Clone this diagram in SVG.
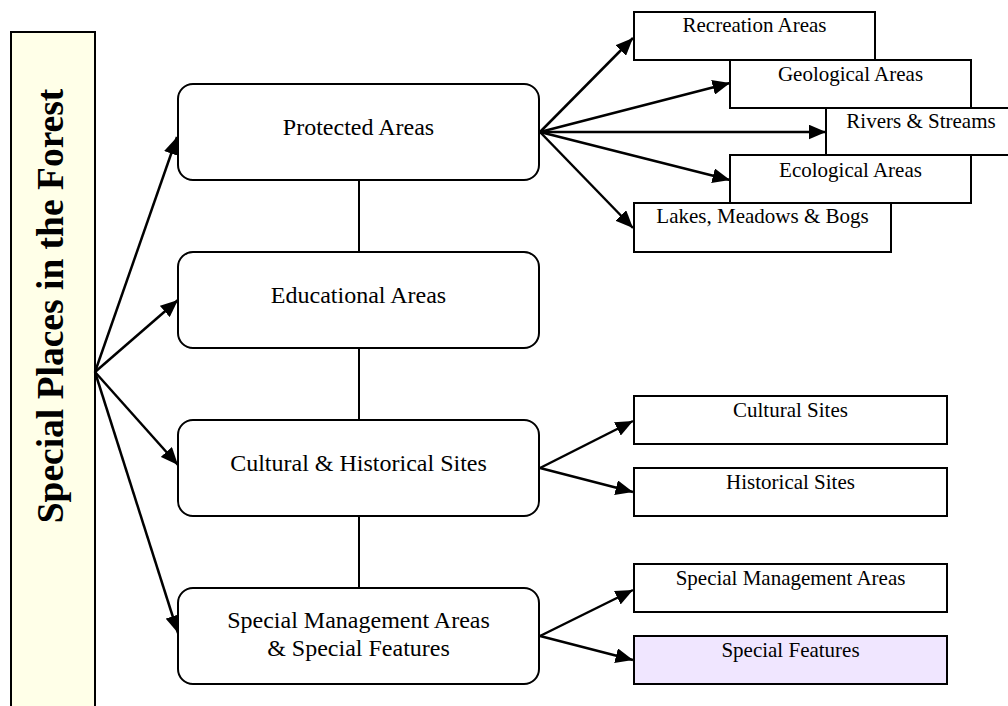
<svg xmlns="http://www.w3.org/2000/svg" width="1008" height="706" viewBox="0 0 1008 706">
<style>
.main{fill:#fff;stroke:#000;stroke-width:2}
.sub{fill:#fff;stroke:#000;stroke-width:2}
.t1{font-family:"Liberation Serif","Times New Roman",serif;font-size:24px;text-anchor:middle;fill:#000}
.t2{font-family:"Liberation Serif","Times New Roman",serif;font-size:21px;text-anchor:middle;fill:#000}
.title{font-family:"Liberation Serif","Times New Roman",serif;font-size:37.5px;font-weight:bold;text-anchor:middle;fill:#000}
.arr{stroke:#000;stroke-width:2.5;fill:none;marker-end:url(#ah)}
.ln{stroke:#000;stroke-width:2;fill:none}
</style>
<defs>
<marker id="ah" markerWidth="7" markerHeight="6" refX="7" refY="3" orient="auto" markerUnits="strokeWidth">
<path d="M0,0 L7,3 L0,6 Z" fill="#000"/>
</marker>
</defs>
<rect width="1008" height="706" fill="#fff"/>

<g id="title-node">
<rect x="11" y="32" width="84" height="690" fill="#FFFFE8" stroke="#000" stroke-width="2"/>
<text class="title" transform="translate(63,306) rotate(-90)">Special Places in the Forest</text>
</g>

<g id="connectors">
<path class="arr" d="M95,372 L177,137"/>
<path class="arr" d="M95,372 L178,300"/>
<path class="arr" d="M95,372 L178,465"/>
<path class="arr" d="M95,372 L178,633"/>
<path class="ln" d="M359,180 V252 M359,348 V420 M359,516 V588"/>
<path class="arr" d="M540,132 L633,38"/>
<path class="arr" d="M540,132 L730,83"/>
<path class="arr" d="M540,132 L826,132"/>
<path class="arr" d="M540,132 L730,180"/>
<path class="arr" d="M540,132 L633,228"/>
<path class="arr" d="M540,468 L633,421"/>
<path class="arr" d="M540,468 L633,492"/>
<path class="arr" d="M540,636 L633,590"/>
<path class="arr" d="M540,636 L633,660"/>
</g>

<g id="protected-areas">
<rect class="main" x="178" y="84" width="361" height="96" rx="15"/>
<text class="t1" x="358.5" y="135">Protected Areas</text>
</g>
<g id="educational-areas">
<rect class="main" x="178" y="252" width="361" height="96" rx="15"/>
<text class="t1" x="358.5" y="303">Educational Areas</text>
</g>
<g id="cultural-historical">
<rect class="main" x="178" y="420" width="361" height="96" rx="15"/>
<text class="t1" x="358.5" y="471">Cultural &amp; Historical Sites</text>
</g>
<g id="special-management">
<rect class="main" x="178" y="588" width="361" height="96" rx="15"/>
<text class="t1" x="358.5" y="628">Special Management Areas</text>
<text class="t1" x="358.5" y="656">&amp; Special Features</text>
</g>

<g id="recreation-areas">
<rect class="sub" x="634" y="12" width="241" height="48"/>
<text class="t2" x="754.5" y="32">Recreation Areas</text>
</g>
<g id="geological-areas">
<rect class="sub" x="730" y="60" width="241" height="48"/>
<text class="t2" x="850.5" y="81">Geological Areas</text>
</g>
<g id="rivers-streams">
<rect class="sub" x="826" y="108" width="190" height="47"/>
<text class="t2" x="921" y="128">Rivers &amp; Streams</text>
</g>
<g id="ecological-areas">
<rect class="sub" x="730" y="155" width="241" height="48"/>
<text class="t2" x="850.5" y="177">Ecological Areas</text>
</g>
<g id="lakes-meadows-bogs">
<rect class="sub" x="634" y="203" width="257" height="49"/>
<text class="t2" x="762.5" y="223">Lakes, Meadows &amp; Bogs</text>
</g>

<g id="cultural-sites">
<rect class="sub" x="634" y="396" width="313" height="48"/>
<text class="t2" x="790.5" y="417">Cultural Sites</text>
</g>
<g id="historical-sites">
<rect class="sub" x="634" y="468" width="313" height="48"/>
<text class="t2" x="790.5" y="489">Historical Sites</text>
</g>
<g id="special-management-areas">
<rect class="sub" x="634" y="564" width="313" height="48"/>
<text class="t2" x="790.5" y="585">Special Management Areas</text>
</g>
<g id="special-features">
<rect class="sub" x="634" y="636" width="313" height="48" style="fill:#F0E6FF"/>
<text class="t2" x="790.5" y="657">Special Features</text>
</g>
</svg>
